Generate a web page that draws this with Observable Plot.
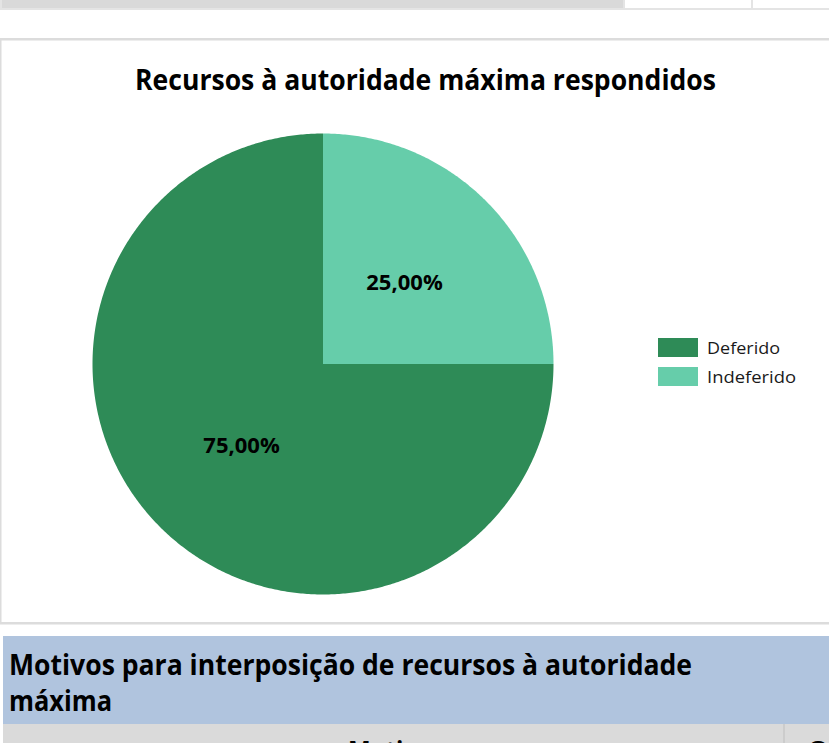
<!DOCTYPE html>
<html><head><meta charset="utf-8">
<script src="https://cdn.jsdelivr.net/npm/d3@7"></script>
<script src="https://cdn.jsdelivr.net/npm/@observablehq/plot@0.6"></script>
<style>
html,body{margin:0;padding:0}
body{width:829px;height:743px;overflow:hidden;background:#fff;position:relative;font-family:"Open Sans",sans-serif}
#bg{position:absolute;left:0;top:0}
#chart{position:absolute;left:0;top:40px}
</style></head><body>
<svg id="bg" width="829" height="743"></svg>
<div id="chart"></div>
<script>
// ---- data ----
const categories = ["Deferido", "Indeferido"];
const values = [75, 25];
const valueLabels = ["75,00%", "25,00%"];
const colors = ["#2e8b57", "#66cdaa"];
const chartTitle = "Recursos à autoridade máxima respondidos";
const headerLines = ["Motivos para interposição de recursos à autoridade", "máxima"];
const columnHeaders = ["Motivo", "Quantidade"];

// ---- background sheet decorations ----
const bg = d3.select("#bg");
// top band (previous table row)
bg.append("rect").attr("x", 2).attr("y", 0).attr("width", 621).attr("height", 8).attr("fill", "#d9d9d9");
bg.append("rect").attr("x", 0).attr("y", 8).attr("width", 829).attr("height", 2).attr("fill", "#e4e4e4");
bg.append("rect").attr("x", 623).attr("y", 0).attr("width", 2).attr("height", 9).attr("fill", "#e4e4e4");
bg.append("rect").attr("x", 751).attr("y", 0).attr("width", 2).attr("height", 9).attr("fill", "#e4e4e4");
bg.append("rect").attr("x", 0).attr("y", 0).attr("width", 2).attr("height", 9).attr("fill", "#e4e4e4");
// chart panel border
bg.append("rect").attr("x", 0).attr("y", 38).attr("width", 829).attr("height", 2.5).attr("fill", "#dcdcdc");
bg.append("rect").attr("x", 0).attr("y", 38).attr("width", 1.5).attr("height", 586).attr("fill", "#dcdcdc");
bg.append("rect").attr("x", 0).attr("y", 622).attr("width", 829).attr("height", 2.5).attr("fill", "#dcdcdc");
// title
bg.append("text").attr("x", 425.5).attr("y", 90).attr("text-anchor", "middle")
  .attr("font-size", 29).attr("font-weight", 700).attr("fill", "#000")
  .attr("textLength", 581).attr("lengthAdjust", "spacingAndGlyphs").text(chartTitle);
// legend
const legendW = [73, 89];
categories.forEach((c, i) => {
  bg.append("rect").attr("x", 658).attr("y", 338 + i * 29).attr("width", 40).attr("height", 19).attr("fill", colors[i]);
  bg.append("text").attr("x", 707).attr("y", 354 + i * 29).attr("font-size", 17).attr("fill", "#1a1a1a")
    .attr("textLength", legendW[i]).attr("lengthAdjust", "spacingAndGlyphs").text(c);
});
// blue header section
bg.append("rect").attr("x", 3).attr("y", 636).attr("width", 826).attr("height", 88).attr("fill", "#b0c4de");
bg.append("text").attr("x", 9).attr("y", 675).attr("font-size", 28).attr("font-weight", 700).attr("fill", "#000")
  .attr("textLength", 683).attr("lengthAdjust", "spacingAndGlyphs").text(headerLines[0]);
bg.append("text").attr("x", 9).attr("y", 711).attr("font-size", 28).attr("font-weight", 700).attr("fill", "#000")
  .attr("textLength", 103).attr("lengthAdjust", "spacingAndGlyphs").text(headerLines[1]);
// gray column header row
bg.append("rect").attr("x", 3).attr("y", 724).attr("width", 826).attr("height", 19).attr("fill", "#dadada");
bg.append("rect").attr("x", 783).attr("y", 724).attr("width", 2).attr("height", 19).attr("fill", "#cccccc");
bg.append("text").attr("x", 390).attr("y", 762).attr("text-anchor", "middle").attr("font-size", 28).attr("font-weight", 700)
  .attr("textLength", 84).attr("lengthAdjust", "spacingAndGlyphs").text(columnHeaders[0]);
bg.append("text").attr("x", 807).attr("y", 762).attr("font-size", 28).attr("font-weight", 700).text(columnHeaders[1]);

// ---- pie via Plot geo (identity projection) ----
const table = categories.map((c, i) => ({category: c, value: values[i], label: valueLabels[i]}));
const arcs = d3.pie().sort(null).value(d => d.value)
  .startAngle(Math.PI / 2).endAngle(Math.PI / 2 + 2 * Math.PI)(table);

const slices = arcs.map(a => {
  const ring = [[0, 0]];
  const n = Math.max(2, Math.ceil((a.endAngle - a.startAngle) / (Math.PI / 360)));
  for (let k = 0; k <= n; k++) {
    const t = a.startAngle + (a.endAngle - a.startAngle) * k / n;
    ring.push([Math.sin(t), -Math.cos(t)]);
  }
  ring.push([0, 0]);
  return {type: "Feature", properties: {category: a.data.category}, geometry: {type: "Polygon", coordinates: [ring]}};
});
const labelPts = arcs.map(a => {
  const m = (a.startAngle + a.endAngle) / 2;
  return {x: 0.5 * Math.sin(m), y: -0.5 * Math.cos(m), label: a.data.label};
});

const plot = Plot.plot({
  width: 829,
  height: 582,
  marginLeft: 92,
  marginRight: 276,
  marginTop: 93,
  marginBottom: 28,
  projection: {type: "identity", domain: {type: "MultiPoint", coordinates: [[-1, -1], [1, 1]]}},
  color: {domain: categories, range: colors},
  style: {background: "transparent", overflow: "visible", fontFamily: "Open Sans, sans-serif"},
  marks: [
    Plot.geo(slices, {fill: d => d.properties.category, stroke: "none"}),
    Plot.text(labelPts, {x: "x", y: "y", text: "label", fontSize: 22, fontWeight: 700, fill: "#000"})
  ]
});
document.getElementById("chart").appendChild(plot);
</script>
</body></html>
